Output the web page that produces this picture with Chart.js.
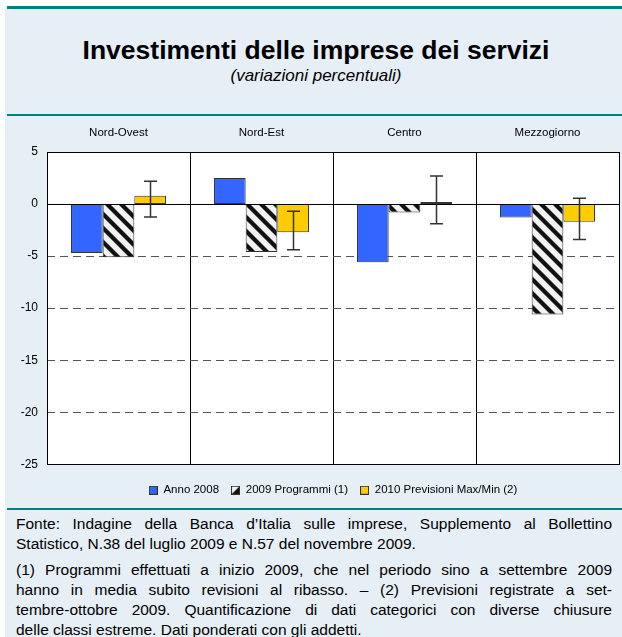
<!DOCTYPE html>
<html>
<head>
<meta charset="utf-8">
<script src="https://cdn.jsdelivr.net/npm/chart.js@4.4.0/dist/chart.umd.min.js"></script>
<style>
  html, body { margin: 0; padding: 0; background: #fff; }
  body { width: 622px; height: 637px; position: relative; overflow: hidden; font-family: "Liberation Sans", Arial, sans-serif; color: #000; }
  #panel { position: absolute; left: 5px; top: 9px; width: 617px; height: 628px; background: #e6eef6; }
  .rule { position: absolute; left: 7px; width: 615px; background: #008080; }
  #title { position: absolute; left: 5px; width: 622px; top: 35px; line-height: 30px; text-align: center; font-weight: bold; font-size: 26.5px; }
  #subtitle { position: absolute; left: 5px; width: 622px; top: 66px; line-height: 20px; text-align: center; font-style: italic; font-size: 17px; }
  #chartBox { position: absolute; left: 5px; top: 116px; width: 617px; height: 392px; }
  #notes { position: absolute; left: 16px; top: 514px; width: 596px; font-size: 15.5px; line-height: 20px; }
  #notes .p { margin-bottom: 6px; }
  .j { text-align: justify; text-align-last: justify; }
</style>
</head>
<body>
<div id="panel"></div>
<div class="rule" style="top:6px;height:3px"></div>
<div class="rule" style="top:114px;height:2px"></div>
<div class="rule" style="top:508px;height:2px"></div>
<div id="title">Investimenti delle imprese dei servizi</div>
<div id="subtitle">(variazioni percentuali)</div>
<div id="chartBox"><canvas id="chart" width="617" height="392"></canvas></div>
<div id="notes">
  <div class="p">
    <div class="j">Fonte: Indagine della Banca d’Italia sulle imprese, Supplemento al Bollettino</div>
    <div>Statistico, N.38 del luglio 2009 e N.57 del novembre 2009.</div>
  </div>
  <div class="p">
    <div class="j">(1) Programmi effettuati a inizio 2009, che nel periodo sino a settembre 2009</div>
    <div class="j">hanno in media subito revisioni al ribasso. – (2) Previsioni registrate a set-</div>
    <div class="j">tembre-ottobre 2009. Quantificazione di dati categorici con diverse chiusure</div>
    <div>delle classi estreme. Dati ponderati con gli addetti.</div>
  </div>
</div>
<script>
// Investimenti delle imprese dei servizi - variazioni percentuali
const regions = ['Nord-Ovest', 'Nord-Est', 'Centro', 'Mezzogiorno'];
const seriesNames = ['Anno 2008', '2009 Programmi (1)', '2010 Previsioni Max/Min (2)'];
const anno2008 = [-4.7, 2.5, -5.6, -1.3];
const programmi2009 = [-5.1, -4.6, -0.8, -10.6];
const previsioni2010 = [0.8, -2.7, 0.2, -1.7];
const previsioniMax = [2.2, -0.7, 2.7, 0.55];
const previsioniMin = [-1.25, -4.4, -1.9, -3.4];
const yTicks = [5, 0, -5, -10, -15, -20, -25];

const font = '"Liberation Sans", Arial, sans-serif';
const canvas = document.getElementById('chart');
const ctx = canvas.getContext('2d');

// diagonal hatch for the 2009 series
function makeHatch() {
  const s = 14;
  const c = document.createElement('canvas');
  c.width = s; c.height = s;
  const g = c.getContext('2d');
  g.fillStyle = '#f2f2f2';
  g.fillRect(0, 0, s, s);
  g.strokeStyle = '#111';
  g.lineWidth = 4.2;
  [-s, 0, s].forEach(k => {
    g.beginPath();
    g.moveTo(k - 2, -2);
    g.lineTo(k + s + 2, s + 2);
    g.stroke();
  });
  return ctx.createPattern(c, 'repeat');
}

function legendIcon(fill, half) {
  const c = document.createElement('canvas');
  c.width = 9; c.height = 9;
  const g = c.getContext('2d');
  g.fillStyle = fill;
  g.fillRect(0, 0, 9, 9);
  if (half) {
    g.fillStyle = '#111';
    g.beginPath();
    g.moveTo(9, 0); g.lineTo(9, 9); g.lineTo(0, 9);
    g.closePath();
    g.fill();
  }
  g.strokeStyle = '#333';
  g.lineWidth = 1;
  g.strokeRect(0.5, 0.5, 8, 8);
  return c;
}
const icons = [legendIcon('#3366ff'), legendIcon('#f2f2f2', true), legendIcon('#ffcc00')];

const framePlugin = {
  id: 'frame',
  beforeDraw(chart) {
    const a = chart.chartArea;
    chart.ctx.save();
    chart.ctx.fillStyle = '#fff';
    chart.ctx.fillRect(a.left, a.top, a.right - a.left, a.bottom - a.top);
    chart.ctx.restore();
  },
  beforeDatasetsDraw(chart) {
    const a = chart.chartArea;
    const y = chart.scales.y;
    const c = chart.ctx;
    c.save();
    c.strokeStyle = '#555';
    c.lineWidth = 1;
    c.setLineDash([8, 5]);
    yTicks.forEach(v => {
      if (v === 0 || v === 5 || v === -25) return;
      const py = Math.round(y.getPixelForValue(v)) + 0.5;
      c.beginPath();
      c.moveTo(a.left, py);
      c.lineTo(a.right, py);
      c.stroke();
    });
    c.restore();
  },
  afterDatasetsDraw(chart) {
    const a = chart.chartArea;
    const y = chart.scales.y;
    const c = chart.ctx;
    c.save();
    c.strokeStyle = '#000';
    c.lineWidth = 1;
    const p0 = Math.round(y.getPixelForValue(0)) + 0.5;
    c.beginPath();
    c.moveTo(a.left, p0);
    c.lineTo(a.right, p0);
    c.stroke();
    c.strokeRect(Math.round(a.left) + 0.5, Math.round(a.top) + 0.5,
      Math.round(a.right - a.left), Math.round(a.bottom - a.top));

    // max/min range on the 2010 bars
    c.strokeStyle = '#333';
    c.lineWidth = 1.5;
    chart.getDatasetMeta(2).data.forEach((bar, i) => {
      const x = Math.round(bar.x) + 0.5;
      const hi = y.getPixelForValue(previsioniMax[i]);
      const lo = y.getPixelForValue(previsioniMin[i]);
      c.beginPath();
      c.moveTo(x, hi); c.lineTo(x, lo);
      c.moveTo(x - 6.5, hi); c.lineTo(x + 6.5, hi);
      c.moveTo(x - 6.5, lo); c.lineTo(x + 6.5, lo);
      c.stroke();
    });
    c.restore();
  }
};

const barStyle = { borderColor: '#333', borderWidth: 1, borderSkipped: false,
  categoryPercentage: 0.664, barPercentage: 1 };

new Chart(canvas, {
  type: 'bar',
  data: {
    labels: regions,
    datasets: [
      Object.assign({ label: seriesNames[0], data: anno2008, backgroundColor: '#3366ff' }, barStyle),
      Object.assign({ label: seriesNames[1], data: programmi2009, backgroundColor: makeHatch() }, barStyle),
      Object.assign({ label: seriesNames[2], data: previsioni2010, backgroundColor: '#ffcc00' }, barStyle)
    ]
  },
  options: {
    responsive: false,
    animation: false,
    devicePixelRatio: 1,
    layout: { padding: { left: 0, right: 3, top: 0, bottom: 2 } },
    plugins: {
      tooltip: { enabled: false },
      legend: {
        position: 'bottom',
        fullSize: false,
        title: { display: true, text: ' ', font: { size: 1 }, padding: { top: 4, bottom: 3 } },
        labels: {
          usePointStyle: true,
          boxWidth: 9,
          boxHeight: 9,
          padding: 12,
          color: '#000',
          font: { family: font, size: 11.5 },
          generateLabels: chart => chart.data.datasets.map((ds, i) => ({
            text: ds.label,
            pointStyle: icons[i],
            fillStyle: '#fff',
            strokeStyle: '#333',
            fontColor: '#000',
            lineWidth: 0,
            hidden: false,
            datasetIndex: i
          }))
        }
      }
    },
    scales: {
      x: {
        position: 'top',
        grid: { color: '#000', lineWidth: 1, drawTicks: false, offset: true },
        border: { color: '#000' },
        ticks: { color: '#000', padding: 12, font: { family: font, size: 11.5 } },
        afterFit: s => { s.height = 36; }
      },
      y: {
        min: -25,
        max: 5,
        grid: { display: false, drawTicks: false },
        border: { color: '#000' },
        ticks: { color: '#000', padding: 9, font: { family: font, size: 12 } },
        afterBuildTicks: s => { s.ticks = yTicks.map(v => ({ value: v })); },
        afterFit: s => { s.width = 42; }
      }
    }
  },
  plugins: [framePlugin]
});
</script>
</body>
</html>
